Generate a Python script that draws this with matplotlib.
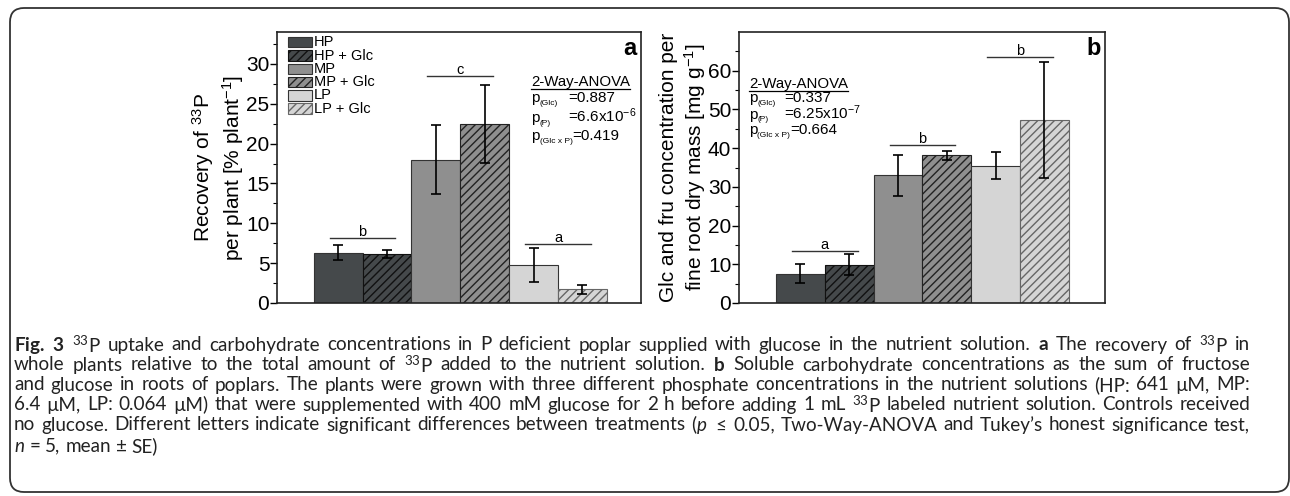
import numpy as np
import matplotlib
matplotlib.use('Agg')
import matplotlib.pyplot as plt
from matplotlib.patches import FancyBboxPatch, Rectangle
from matplotlib.transforms import IdentityTransform

# data
groups = ['HP', 'HP + Glc', 'MP', 'MP + Glc', 'LP', 'LP + Glc']
rec_mean = [6.3, 6.1, 18.0, 22.5, 4.8, 1.7]
rec_err = [0.95, 0.5, 4.35, 4.9, 2.15, 0.6]
conc_mean = [7.6, 9.9, 33.0, 38.1, 35.5, 47.2]
conc_err = [2.5, 2.7, 5.3, 1.15, 3.5, 15.0]

sig_letters_a = ['b', 'c', 'a']
sig_height_a = [8.1, 28.45, 7.45]
sig_letters_b = ['a', 'b', 'b']
sig_height_b = [13.5, 40.7, 63.6]

anova_subs = ['(Glc)', '(P)', '(Glc x P)']
anova_a = ['=0.887', r'=6.6x10$^{\mathdefault{-6}}$', '=0.419']
anova_b = ['=0.337', r'=6.25x10$^{\mathdefault{-7}}$', '=0.664']

# styles
fills = ['#45494b', '#45494b', '#8f8f8f', '#8f8f8f', '#d5d5d5', '#d5d5d5']
hatches = [None, '////', None, '////', None, '////']
edges = ['#333333', '#111111', '#333333', '#222222', '#333333', '#666666']

plt.rcParams['font.family'] = ['Liberation Sans', 'DejaVu Sans']
plt.rcParams['mathtext.fontset'] = 'custom'
plt.rcParams['mathtext.rm'] = 'Lato'
plt.rcParams['mathtext.bf'] = 'Lato:bold'
plt.rcParams['mathtext.it'] = 'Lato:italic'
plt.rcParams['hatch.linewidth'] = 1.0

W, H = 1290, 496
fig = plt.figure(figsize=(W / 100, H / 100), dpi=100)
fig.canvas.draw()
r = fig.canvas.get_renderer()


def px_axes(x0, y0, x1, y1):
    return fig.add_axes([x0 / W, 1 - y1 / H, (x1 - x0) / W, (y1 - y0) / H])


def draw_panel(ax, means, errs, ylim, major, minor, letters, heights, xlim):
    x = np.arange(len(groups))
    for i in range(len(groups)):
        ax.bar(x[i], means[i], width=1.0, color=fills[i], hatch=hatches[i],
               edgecolor=edges[i], linewidth=0.8, zorder=2)
    ax.errorbar(x, means, yerr=errs, fmt='none', ecolor='black',
                elinewidth=1.2, capsize=3.5, capthick=1.2, zorder=3)
    for k in range(3):
        x0, x1 = x[2 * k] - 0.17, x[2 * k + 1] + 0.17
        ax.plot([x0, x1], [heights[k], heights[k]], color='#333333', lw=1.0, zorder=3)
        ax.annotate(letters[k], ((x0 + x1) / 2, heights[k]), xytext=(0, 1.5),
                    textcoords='offset points', ha='center', va='baseline', fontsize=10.5)
    ax.set_xlim(*xlim)
    ax.set_ylim(*ylim)
    ax.set_xticks([])
    ax.set_yticks(np.arange(0, ylim[1], major))
    ax.set_yticks(np.arange(0, ylim[1], minor), minor=True)
    ax.tick_params(axis='y', which='major', direction='out', length=5, width=1.0,
                   labelsize=15, pad=0.5)
    ax.tick_params(axis='y', which='minor', direction='out', length=3, width=0.8)
    for s in ax.spines.values():
        s.set_linewidth(1.2)
        s.set_color('#222222')


def anova_text(ax, x0, xeq, ys, vals):
    t = ax.text(x0, ys[0], '2-Way-ANOVA', transform=ax.transAxes, fontsize=10.8,
                va='baseline', ha='left')
    bb = t.get_window_extent(r).transformed(ax.transAxes.inverted())
    ax.plot([bb.x0, bb.x1], [ys[0] - 0.012, ys[0] - 0.012], transform=ax.transAxes,
            color='black', lw=0.9, clip_on=False)
    for j in range(3):
        ax.text(x0, ys[j + 1], 'p', transform=ax.transAxes, fontsize=11,
                va='baseline', ha='left')
        sub = ax.annotate(anova_subs[j], (x0, ys[j + 1]), xycoords='axes fraction',
                          xytext=(8.5, -2.5), textcoords='offset pixels', fontsize=6,
                          va='baseline', ha='left')
        if j < 2:
            ax.text(xeq, ys[j + 1], vals[j], transform=ax.transAxes,
                    fontsize=11, va='baseline', ha='left')
        else:
            sb = sub.get_window_extent(r).transformed(ax.transAxes.inverted())
            ax.text(sb.x1, ys[j + 1], vals[j], transform=ax.transAxes,
                    fontsize=11, va='baseline', ha='left')


def legend_box(ax, axw, axh):
    for i in range(len(groups)):
        top = 5 + i * 13.3
        ax.add_patch(Rectangle((11 / axw, 1 - (top + 10.3) / axh), 24 / axw, 10.3 / axh,
                               transform=ax.transAxes, facecolor=fills[i],
                               hatch=hatches[i], edgecolor=edges[i], linewidth=0.8,
                               clip_on=False, zorder=4))
        ax.text(37 / axw, 1 - (top + 5.2) / axh, groups[i], transform=ax.transAxes,
                fontsize=10.5, va='center', ha='left', zorder=4)


# panel a
ax1 = px_axes(277, 32, 641, 303)
draw_panel(ax1, rec_mean, rec_err, (0, 34), 5, 2.5, sig_letters_a, sig_height_a, (-1.25, 6.2))
ax1.set_ylabel('Recovery of $^{\\mathdefault{33}}$P\nper plant [% plant$^{\\mathdefault{-1}}$]',
               fontsize=15, labelpad=0, linespacing=1.2)
legend_box(ax1, 364, 271)
ax1.text(0.989, 0.94, 'a', transform=ax1.transAxes, fontsize=17, fontweight='bold',
         ha='right', va='center')
anova_text(ax1, 0.698, 0.799, [0.80, 0.74, 0.667, 0.60], anova_a)

# panel b
ax2 = px_axes(739, 32, 1105, 303)
draw_panel(ax2, conc_mean, conc_err, (0, 70), 10, 5, sig_letters_b, sig_height_b, (-1.26, 6.24))
ax2.set_ylabel('Glc and fru concentration per\nfine root dry mass [mg g$^{\\mathdefault{-1}}$]',
               fontsize=15, labelpad=0, linespacing=1.2)
ax2.text(0.989, 0.94, 'b', transform=ax2.transAxes, fontsize=17, fontweight='bold',
         ha='right', va='center')
anova_text(ax2, 0.027, 0.123, [0.793, 0.74, 0.68, 0.622], anova_b)

# rounded frame around the whole figure
frame = FancyBboxPatch((10, 4), 1279, 484, boxstyle='round,pad=0,rounding_size=14',
                       transform=IdentityTransform(), facecolor='none',
                       edgecolor='#333333', linewidth=1.3)
fig.add_artist(frame)

# caption, justified between x=14 and x=1250 (words split on plain spaces)
cap = [
    r'$\mathbf{Fig.}$ $\mathbf{3}$ ${}^{\mathdefault{33}}$P uptake and carbohydrate concentrations in P deficient poplar supplied with glucose in the nutrient solution. $\mathbf{a}$ The recovery of ${}^{\mathdefault{33}}$P in',
    r'whole plants relative to the total amount of ${}^{\mathdefault{33}}$P added to the nutrient solution. $\mathbf{b}$ Soluble carbohydrate concentrations as the sum of fructose',
    'and glucose in roots of poplars. The plants were grown with three different phosphate concentrations in the nutrient solutions (HP: 641 \u00b5M, MP:',
    r'6.4 µM, LP: 0.064 µM) that were supplemented with 400 mM glucose for 2 h before adding 1 mL ${}^{\mathdefault{33}}$P labeled nutrient solution. Controls received',
    r'no glucose. Different letters indicate significant differences between treatments ($\mathit{p}$ $\leq$ 0.05, Two-Way-ANOVA and Tukey’s honest significance test,',
    r'$\mathit{n}$ = 5, mean ± SE)',
]
cap_y = [345, 365, 385, 405, 425, 446]
cap_x0, cap_x1 = 14, 1250

fs = 20
for line in cap[:5]:
    probe = fig.text(0, 0, line, fontsize=12, family='Lato')
    w = probe.get_window_extent(r).width
    probe.remove()
    fs = min(fs, 12 * (cap_x1 - cap_x0) / w * 0.985)

for n, (line, y) in enumerate(zip(cap, cap_y)):
    words = line.split(' ')
    texts = [fig.text(0, 1 - y / H, wd, fontsize=fs, family='Lato', va='center',
                      ha='left', color='#222222') for wd in words]
    widths = [t.get_window_extent(r).width for t in texts]
    if n < 5:
        gap = (cap_x1 - cap_x0 - sum(widths)) / (len(words) - 1)
    else:
        gap = fs * 100 / 72 * 0.25
    xpos = cap_x0
    for t, wdt in zip(texts, widths):
        t.set_x(xpos / W)
        xpos += wdt + gap

fig.savefig('out.png', dpi=100)
